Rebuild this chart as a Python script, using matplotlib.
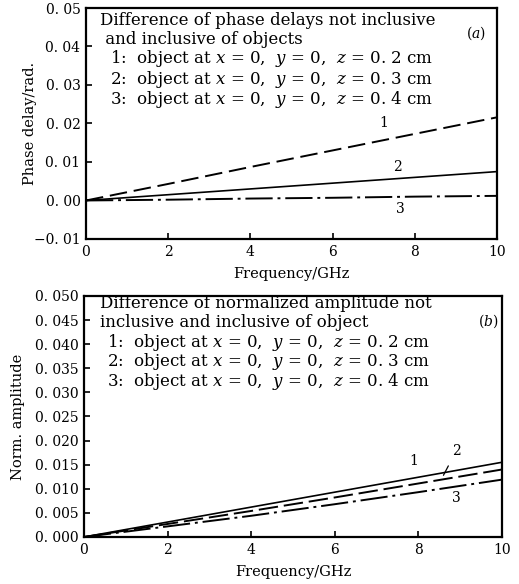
import matplotlib
matplotlib.use("Agg")
import matplotlib.pyplot as plt
import numpy as np

plt.rcParams['font.family'] = ['DejaVu Serif']
plt.rcParams['mathtext.fontset'] = 'dejavuserif'

# ---- data ----
freq = [0, 2, 4, 6, 8, 10]

# (a) phase delay differences (rad)
phase_1 = [0.0, 0.0043, 0.0087, 0.0130, 0.0173, 0.0216]
phase_2 = [0.0, 0.0015, 0.0030, 0.0045, 0.0060, 0.0075]
phase_3 = [0.0, 0.0002, 0.0005, 0.0007, 0.0010, 0.0012]

# (b) normalized amplitude differences
amp_1 = [0.0, 0.0031, 0.0062, 0.0093, 0.0124, 0.0155]
amp_2 = [0.0, 0.0027, 0.0054, 0.0082, 0.0111, 0.0140]
amp_3 = [0.0, 0.0022, 0.0044, 0.0068, 0.0093, 0.0119]

xticks = [0, 2, 4, 6, 8, 10]
xtick_labels = ['0', '2', '4', '6', '8', '10']
yticks_a = [-0.01, 0.0, 0.01, 0.02, 0.03, 0.04, 0.05]
ytick_labels_a = ['\u22120. 01', '0. 00', '0. 01', '0. 02', '0. 03', '0. 04', '0. 05']
yticks_b = [0.0, 0.005, 0.010, 0.015, 0.020, 0.025, 0.030, 0.035, 0.040, 0.045, 0.050]
ytick_labels_b = ['0. 000', '0. 005', '0. 010', '0. 015', '0. 020', '0. 025',
                  '0. 030', '0. 035', '0. 040', '0. 045', '0. 050']

title_a = ["Difference of phase delays not inclusive",
           " and inclusive of objects"]
title_b = ["Difference of normalized amplitude not",
           "inclusive and inclusive of object"]
items = [r"1:  object at $x$ = 0,  $y$ = 0,  $z$ = 0. 2 cm",
         r"2:  object at $x$ = 0,  $y$ = 0,  $z$ = 0. 3 cm",
         r"3:  object at $x$ = 0,  $y$ = 0,  $z$ = 0. 4 cm"]

fig = plt.figure(figsize=(5.19, 5.84), dpi=100)
axa = fig.add_axes([0.1657, 0.5908, 0.7919, 0.3955])
axb = fig.add_axes([0.1618, 0.0805, 0.8054, 0.4127])

fs_tick = 10
fs_text = 12
lw = 1.4

for ax in (axa, axb):
    for s in ax.spines.values():
        s.set_linewidth(1.6)
    ax.tick_params(direction='in', length=4, width=1.2, labelsize=fs_tick, pad=4)
    ax.set_xlim(0, 10)
    ax.set_xticks(xticks)
    ax.set_xticklabels(xtick_labels)
    ax.set_xlabel("Frequency/GHz", fontsize=10.5, labelpad=6)

# (a)
axa.plot(freq, phase_1, color='black', lw=lw, dashes=(9, 3.5))
axa.plot(freq, phase_2, color='black', lw=lw * 0.85)
axa.plot(freq, phase_3, color='black', lw=lw, dashes=(14, 2.5, 1.5, 2.5))
axa.set_ylim(-0.01, 0.05)
axa.set_yticks(yticks_a)
axa.set_yticklabels(ytick_labels_a)
axa.set_ylabel("Phase delay/rad.", fontsize=10.5, labelpad=-2)

ya = [0.945, 0.862, 0.781, 0.689, 0.602]
axa.text(0.034, ya[0], title_a[0], transform=axa.transAxes, fontsize=fs_text, va='center')
axa.text(0.034, ya[1], title_a[1], transform=axa.transAxes, fontsize=fs_text, va='center')
for y, t in zip(ya[2:], items):
    axa.text(0.058, y, t, transform=axa.transAxes, fontsize=fs_text, va='center')
axa.text(9.5, 0.0434, "($a$)", fontsize=10, ha='center', va='center')
axa.text(7.25, 0.0200, "1", fontsize=10, ha='center', va='center')
axa.text(7.57, 0.0086, "2", fontsize=10, ha='center', va='center')
axa.text(7.65, -0.0021, "3", fontsize=10, ha='center', va='center')

# (b)
axb.plot(freq, amp_1, color='black', lw=lw * 0.85)
axb.plot(freq, amp_2, color='black', lw=lw, dashes=(10, 3))
axb.plot(freq, amp_3, color='black', lw=lw, dashes=(14, 2.5, 1.5, 2.5))
axb.set_ylim(0, 0.05)
axb.set_yticks(yticks_b)
axb.set_yticklabels(ytick_labels_b)
axb.set_ylabel("Norm. amplitude", fontsize=10.5, labelpad=7)

yb = [0.967, 0.892, 0.809, 0.730, 0.647]
axb.text(0.038, yb[0], title_b[0], transform=axb.transAxes, fontsize=fs_text, va='center')
axb.text(0.038, yb[1], title_b[1], transform=axb.transAxes, fontsize=fs_text, va='center')
for y, t in zip(yb[2:], items):
    axb.text(0.055, y, t, transform=axb.transAxes, fontsize=fs_text, va='center')
axb.text(9.67, 0.0447, "($b$)", fontsize=10, ha='center', va='center')
axb.text(7.9, 0.0157, "1", fontsize=10, ha='center', va='center')
axb.annotate("2", xy=(8.6, 0.0128), xytext=(8.9, 0.0178), fontsize=10,
             ha='center', va='center',
             arrowprops=dict(arrowstyle='-', lw=0.9, color='black', shrinkA=4, shrinkB=0))
axb.text(8.9, 0.0081, "3", fontsize=10, ha='center', va='center')

fig.savefig("out.png", dpi=100)
